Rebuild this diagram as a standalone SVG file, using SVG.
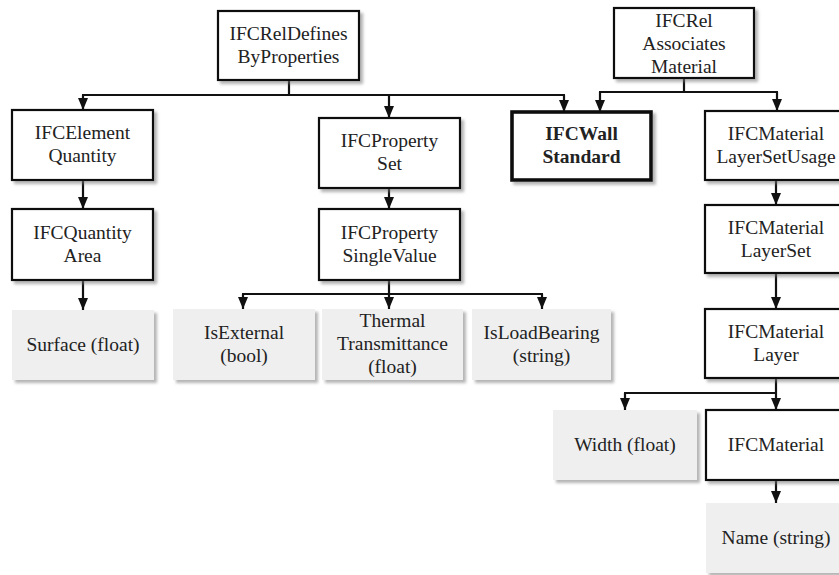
<svg xmlns="http://www.w3.org/2000/svg" width="839" height="575" viewBox="0 0 839 575">
<style>
.box{fill:#fff;stroke:#111;stroke-width:2.2;filter:url(#sh)}
.bold{fill:#fff;stroke:#111;stroke-width:3.6;filter:url(#sh)}
.leaf{fill:#efefef;stroke:none;filter:url(#sh)}
text{font-family:"Liberation Serif","Times New Roman",serif;font-size:19.5px;fill:#222;text-anchor:middle}
.b{font-weight:bold}
.c path{fill:none;stroke:#111;stroke-width:2.2}
.c path.a{marker-end:url(#ar)}
</style>
<defs>
<filter id="sh" x="-10%" y="-10%" width="130%" height="130%">
<feDropShadow dx="3" dy="3" stdDeviation="1.5" flood-color="#777" flood-opacity="0.55"/>
</filter>
<marker id="ar" viewBox="0 0 12 10" refX="12" refY="5" markerWidth="12" markerHeight="10" orient="auto" markerUnits="userSpaceOnUse">
<path d="M0,0 L12,5 L0,10 z" fill="#111"/>
</marker>
</defs>
<rect width="839" height="575" fill="#fff"/>
<g id="connectors" class="c">
<path d="M289 80 V95"/>
<path d="M82 95 H565"/>
<path class="a" d="M83 95 V110"/>
<path class="a" d="M389 95 V118"/>
<path class="a" d="M564 95 V112"/>
<path d="M684 78 V92"/>
<path d="M599 92 H778"/>
<path class="a" d="M600 92 V112"/>
<path class="a" d="M777 92 V111"/>
<path class="a" d="M83 180 V209"/>
<path class="a" d="M83 280 V310"/>
<path class="a" d="M389 188 V209"/>
<path d="M389 280 V294"/>
<path d="M242 294 H543"/>
<path class="a" d="M243 294 V309"/>
<path class="a" d="M389 294 V309"/>
<path class="a" d="M542 294 V309"/>
<path class="a" d="M776 180 V205"/>
<path class="a" d="M776 273 V309"/>
<path d="M624 393 H777"/>
<path class="a" d="M625 393 V410"/>
<path class="a" d="M776 378 V410"/>
<path class="a" d="M776 480 V503"/>
</g>
<g id="relDefinesByProperties"><rect class="box" x="218" y="11" width="141" height="69"/><text x="288.5" y="40">IFCRelDefines</text><text x="288.5" y="63">ByProperties</text></g>
<g id="relAssociatesMaterial"><rect class="box" x="614" y="8" width="140" height="70"/><text x="684" y="26.5">IFCRel</text><text x="684" y="49.5">Associates</text><text x="684" y="72.5">Material</text></g>
<g id="elementQuantity"><rect class="box" x="12" y="110" width="141" height="70"/><text x="82.5" y="139">IFCElement</text><text x="82.5" y="162">Quantity</text></g>
<g id="propertySet"><rect class="box" x="319" y="118" width="141" height="70"/><text x="389.5" y="147">IFCProperty</text><text x="389.5" y="170">Set</text></g>
<g id="wallStandard"><rect class="bold" x="512" y="112" width="139" height="68"/><text class="b" x="581.5" y="140">IFCWall</text><text class="b" x="581.5" y="163">Standard</text></g>
<g id="materialLayerSetUsage"><rect class="box" x="705" y="111" width="142" height="69"/><text x="776" y="140">IFCMaterial</text><text x="776" y="163">LayerSetUsage</text></g>
<g id="quantityArea"><rect class="box" x="12" y="209" width="141" height="71"/><text x="82.5" y="239">IFCQuantity</text><text x="82.5" y="262">Area</text></g>
<g id="propertySingleValue"><rect class="box" x="319" y="209" width="141" height="71"/><text x="389.5" y="239">IFCProperty</text><text x="389.5" y="262">SingleValue</text></g>
<g id="materialLayerSet"><rect class="box" x="705" y="205" width="142" height="68"/><text x="776" y="233.5">IFCMaterial</text><text x="776" y="256.5">LayerSet</text></g>
<g id="surface"><rect class="leaf" x="12" y="310" width="142" height="70"/><text x="83" y="351">Surface (float)</text></g>
<g id="isExternal"><rect class="leaf" x="173" y="309" width="142" height="71"/><text x="244" y="339">IsExternal</text><text x="244" y="362">(bool)</text></g>
<g id="thermalTransmittance"><rect class="leaf" x="322" y="309" width="141" height="71"/><text x="392.5" y="327">Thermal</text><text x="392.5" y="350">Transmittance</text><text x="392.5" y="373">(float)</text></g>
<g id="isLoadBearing"><rect class="leaf" x="472" y="309" width="139" height="71"/><text x="541.5" y="339">IsLoadBearing</text><text x="541.5" y="362">(string)</text></g>
<g id="materialLayer"><rect class="box" x="705" y="309" width="142" height="69"/><text x="776" y="338">IFCMaterial</text><text x="776" y="361">Layer</text></g>
<g id="width"><rect class="leaf" x="553" y="410" width="144" height="70"/><text x="625" y="451">Width (float)</text></g>
<g id="material"><rect class="box" x="706" y="410" width="141" height="70"/><text x="776" y="451">IFCMaterial</text></g>
<g id="name"><rect class="leaf" x="706" y="503" width="141" height="70"/><text x="776" y="544">Name (string)</text></g>
</svg>
